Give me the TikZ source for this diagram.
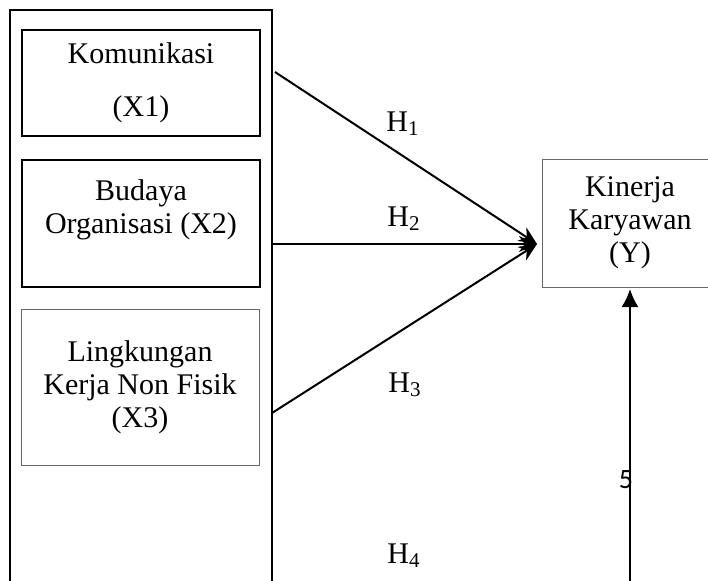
\documentclass[tikz,border=0pt]{standalone}
\usepackage{fontspec}
\setmainfont{Liberation Serif}
\newfontfamily\numfont{Carlito}
\usetikzlibrary{positioning}
\usetikzlibrary{arrows.meta}

\begin{document}
\begin{tikzpicture}[x=0.5pt,y=-0.5pt,
 every node/.style={outer sep=0pt,font=\fontsize{15}{16.5}\selectfont},
 var/.style={draw,line width=1pt,minimum width=119pt,align=center},
 varthin/.style={draw=black!60,line width=0.5pt,align=center},
 hyp/.style={line width=1pt,-{Stealth[length=9pt,width=8pt]}},
 hlab/.style={anchor=base,inner sep=0pt}]
 \clip (0,0) rectangle (708,580);

  % group frame and variables
  \node[draw,line width=0.9pt,minimum width=131pt,minimum height=305pt] (grp) at (141,315) {};
  \node[var,minimum height=53pt] (x1) at (141,83) {Komunikasi\\[10pt](X1)};
  \node[var,minimum height=63.5pt] (x2) at (141,223.5) {Budaya\\Organisasi (X2)\\\mbox{}};
  \node[varthin,minimum width=119pt,minimum height=78pt] (x3) at (140,387)
   {Lingkungan\\Kerja Non Fisik\\(X3)};
  \node[varthin,minimum width=88pt,minimum height=64pt] (ky) at (630,223)
   {Kinerja\\Karyawan\\(Y)};

  \coordinate (tip) at (537,244);
  \coordinate (s1) at (275,72);
  \coordinate (s2) at (grp.east |- tip);
  \coordinate (s3) at (272,413);
  \coordinate (s4) at (630,600);

  \foreach \X in {1,2,3}
  {\draw[hyp] (s\X) -- (tip);}
  \draw[line width=1pt,-{Latex[length=9pt,width=8.5pt]},shorten >=1pt] (s4) -- (ky);

  \node[hlab] (h1) at (403,131) {H\textsubscript{1}};
  \node[hlab] (h2) at (404,226) {H\textsubscript{2}};
  \node[hlab] (h3) at (405,392) {H\textsubscript{3}};
  \node[hlab] (h4) at (404,563) {H\textsubscript{4}};
  \node[anchor=base east,inner sep=0pt,font=\numfont\fontsize{14}{16}\selectfont] (n5) at (633,488) {5};

\end{tikzpicture}
\end{document}
